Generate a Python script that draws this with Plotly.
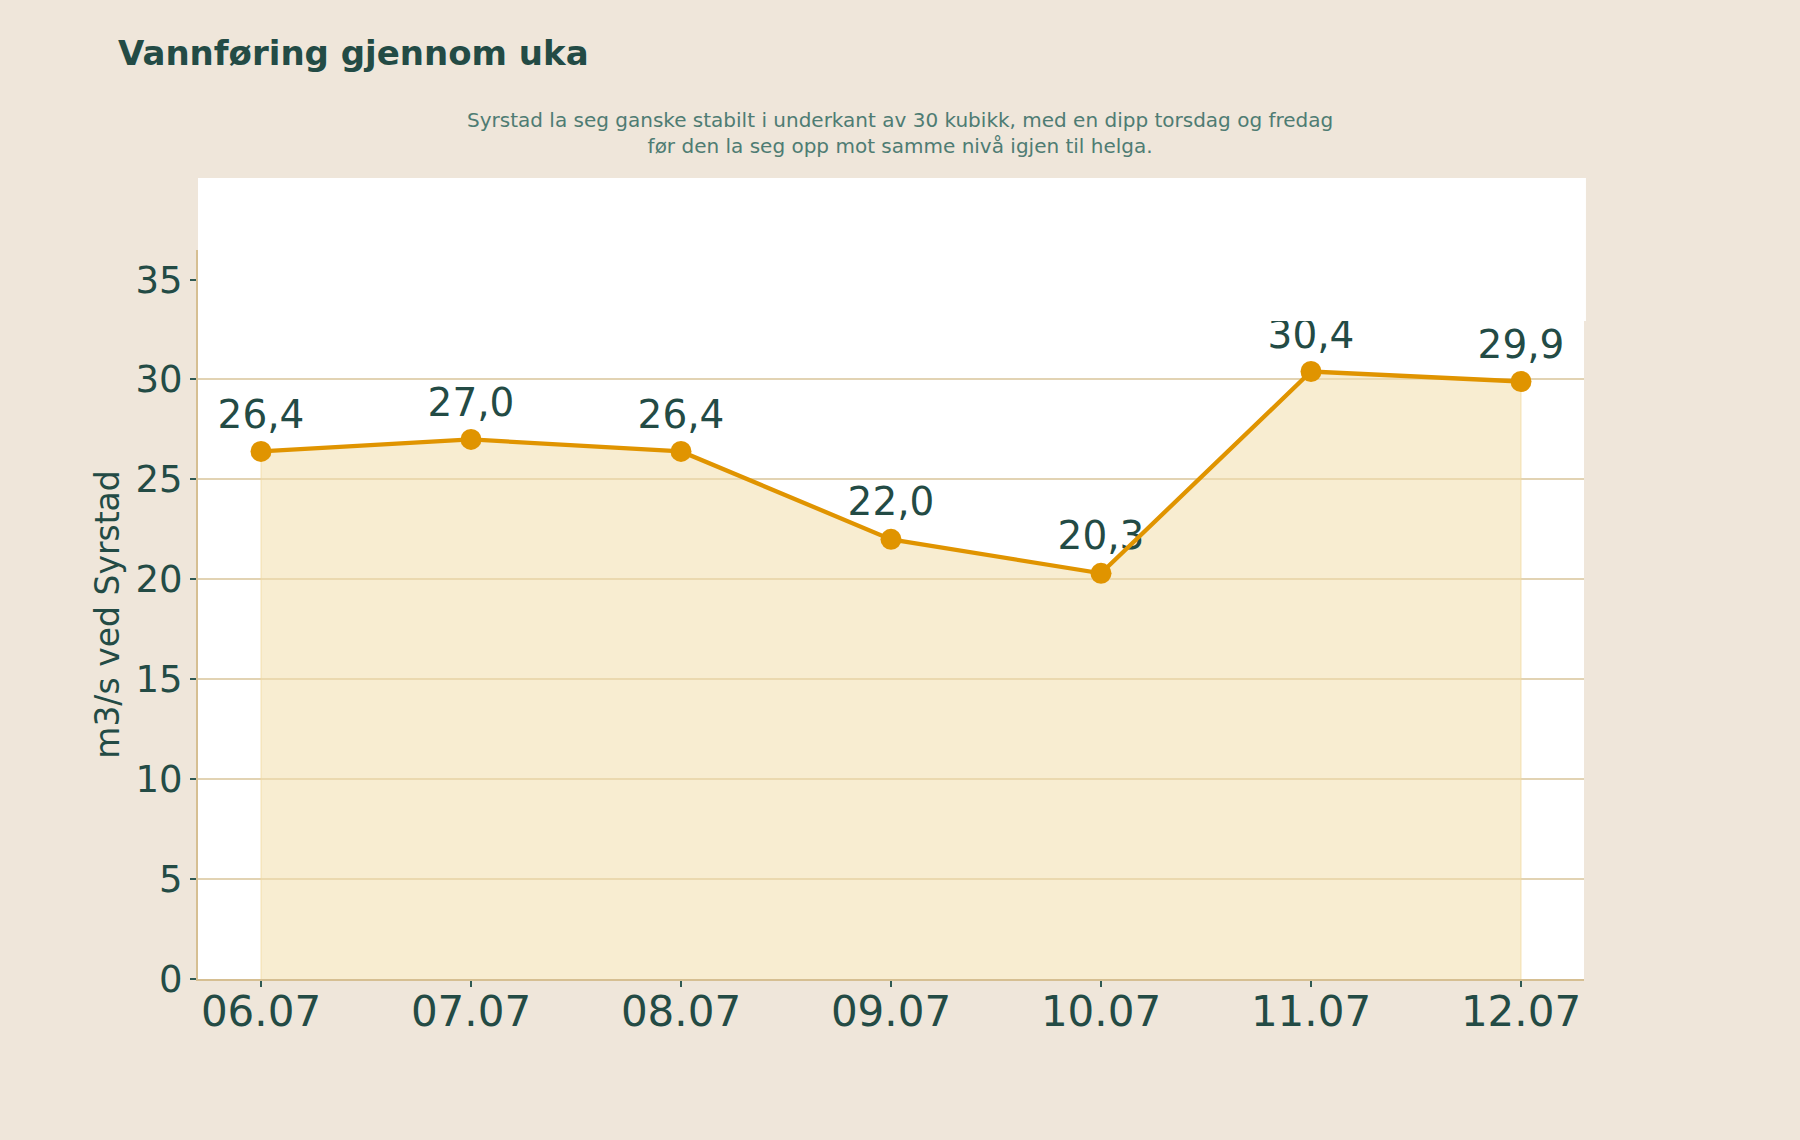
import plotly.graph_objects as go

dates = ["06.07", "07.07", "08.07", "09.07", "10.07", "11.07", "12.07"]
flow = [26.4, 27.0, 26.4, 22.0, 20.3, 30.4, 29.9]

title_text = "Vannføring gjennom uka"
subtitle_text = ("Syrstad la seg ganske stabilt i underkant av 30 kubikk, med en dipp torsdag og fredag"
                 "<br>før den la seg opp mot samme nivå igjen til helga.")
y_title = "m3/s ved Syrstad"

DARK = "#234b45"
ORANGE = "#e09400"
FILL = "rgba(243,222,172,0.55)"
GRID = "#e2d3b3"
AXIS = "#d6bf92"
PAPER = "#efe6da"
FONT = "DejaVu Sans"

fig = go.Figure()

# area fill
fig.add_trace(go.Scatter(
    x=[dates[0]] + dates + [dates[-1]],
    y=[0] + flow + [0],
    mode="lines",
    fill="toself",
    fillcolor=FILL,
    line=dict(color="rgba(240,212,150,0.45)", width=1.5),
    hoverinfo="skip",
    showlegend=False,
))

# labels
fig.add_trace(go.Scatter(
    x=dates, y=flow,
    mode="markers+text",
    marker=dict(size=21, opacity=0),
    texttemplate="%{y:.1f}",
    textposition="top center",
    textfont=dict(family=FONT, size=39, color=DARK),
    showlegend=False,
))

# line + markers
fig.add_trace(go.Scatter(
    x=dates, y=flow,
    mode="lines+markers",
    line=dict(color=ORANGE, width=4.3),
    marker=dict(size=21, color=ORANGE),
    showlegend=False,
))

fig.add_shape(type="rect", xref="paper", yref="paper",
              x0=0, x1=1.0014, y0=0.9026, y1=1.0988,
              fillcolor="white", line=dict(width=0), layer="above")

fig.add_annotation(text="<b>" + title_text + "</b>", xref="paper", yref="paper",
                   x=-0.0595, y=1.27, xanchor="left", yanchor="middle",
                   showarrow=False, font=dict(family=FONT, size=34, color=DARK))
fig.add_annotation(text=subtitle_text, xref="paper", yref="paper",
                   x=0.5065, y=1.1605, xanchor="center", yanchor="middle", align="center",
                   showarrow=False, font=dict(family=FONT, size=20, color="#4e7c73"))

fig.update_layout(
    width=1800, height=1140,
    margin=dict(l=198, r=216, t=250, b=161, pad=0),
    paper_bgcolor=PAPER,
    plot_bgcolor="white",
    separators=", ",
    font=dict(family=FONT, color=DARK),
    xaxis=dict(
        type="category", range=[-0.3, 6.3],
        showgrid=False, showline=True, linecolor=AXIS, linewidth=2,
        ticks="outside", ticklen=6, tickwidth=2, tickcolor="#2f5a53",
        tickfont=dict(family=FONT, size=42, color=DARK),
        ticklabelstandoff=-11,
        zeroline=False,
    ),
    yaxis=dict(
        range=[0, 36.48], dtick=5,
        showgrid=True, gridcolor=GRID, gridwidth=2,
        showline=True, linecolor=AXIS, linewidth=2,
        ticks="outside", ticklen=6, tickwidth=2, tickcolor="#2f5a53",
        tickfont=dict(family=FONT, size=37, color=DARK),
        zeroline=False,
        title=dict(text=y_title, font=dict(family=FONT, size=33, color=DARK), standoff=6),
    ),
)

fig.write_html("out.html")
